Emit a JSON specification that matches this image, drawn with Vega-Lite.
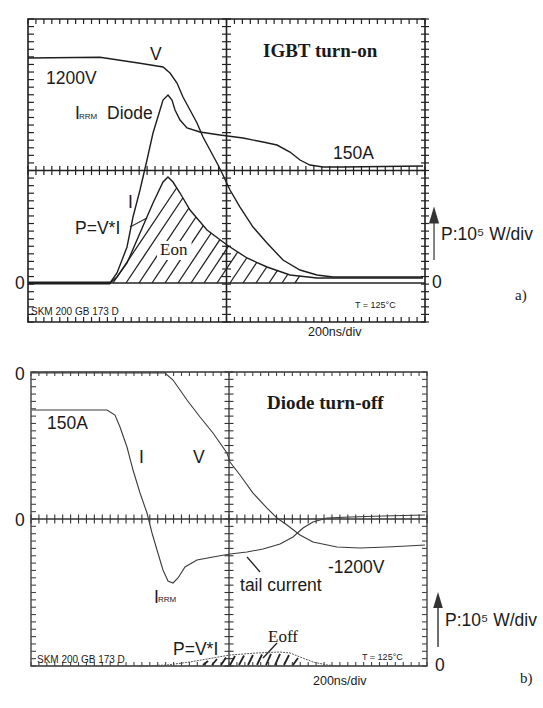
{
"$schema": "https://vega.github.io/schema/vega-lite/v6.json",
"background": "white",
"padding": 0,
"spacing": 0,
"bounds": "flush",
"config": {"view": {"stroke": null}},
"datasets": {
"xs": [{"x":0},{"x":0.2},{"x":0.4},{"x":0.6},{"x":0.8},{"x":1},{"x":1.2},{"x":1.4},{"x":1.6},{"x":1.8},{"x":2},{"x":2.2},{"x":2.4},{"x":2.6},{"x":2.8},{"x":3},{"x":3.2},{"x":3.4},{"x":3.6},{"x":3.8},{"x":4},{"x":4.2},{"x":4.4},{"x":4.6},{"x":4.8},{"x":5},{"x":5.2},{"x":5.4},{"x":5.6},{"x":5.8},{"x":6},{"x":6.2},{"x":6.4},{"x":6.6},{"x":6.8},{"x":7},{"x":7.2},{"x":7.4},{"x":7.6},{"x":7.8},{"x":8},{"x":8.2},{"x":8.4},{"x":8.6},{"x":8.8},{"x":9},{"x":9.2},{"x":9.4},{"x":9.6},{"x":9.8},{"x":10}],
"ys": [{"y":0},{"y":0.2},{"y":0.4},{"y":0.6},{"y":0.8},{"y":1},{"y":1.2},{"y":1.4},{"y":1.6},{"y":1.8},{"y":2},{"y":2.2},{"y":2.4},{"y":2.6},{"y":2.8},{"y":3},{"y":3.2},{"y":3.4},{"y":3.6},{"y":3.8},{"y":4},{"y":4.2},{"y":4.4},{"y":4.6},{"y":4.8},{"y":5},{"y":5.2},{"y":5.4},{"y":5.6},{"y":5.8},{"y":6},{"y":6.2},{"y":6.4},{"y":6.6},{"y":6.8},{"y":7},{"y":7.2},{"y":7.4},{"y":7.6},{"y":7.8},{"y":8}],
"frame": [{"x":0,"y":0,"x2":10,"y2":8}],
"mids": [{"x":0,"y":4,"x2":10,"y2":4},{"x":5,"y":0,"x2":5,"y2":8}],
"curvesA": [
{"s":"V","x":0,"y":6.970},{"s":"V","x":1.814,"y":6.989},{"s":"V","x":2.821,"y":6.830},{"s":"V","x":3.401,"y":6.733},{"s":"V","x":3.577,"y":6.574},{"s":"V","x":3.753,"y":6.310},{"s":"V","x":3.904,"y":5.941},{"s":"V","x":4.081,"y":5.597},{"s":"V","x":4.257,"y":5.254},{"s":"V","x":4.408,"y":4.884},{"s":"V","x":4.584,"y":4.541},{"s":"V","x":4.761,"y":4.198},{"s":"V","x":4.887,"y":3.934},{"s":"V","x":5.088,"y":3.485},{"s":"V","x":5.340,"y":3.036},{"s":"V","x":5.668,"y":2.508},{"s":"V","x":6.020,"y":2.086},{"s":"V","x":6.423,"y":1.637},{"s":"V","x":6.851,"y":1.373},{"s":"V","x":7.280,"y":1.241},{"s":"V","x":7.683,"y":1.188},{"s":"V","x":9.950,"y":1.188},
{"s":"I","x":0,"y":1.030},{"s":"I","x":2.066,"y":1.030},{"s":"I","x":2.242,"y":1.294},{"s":"I","x":2.494,"y":1.980},{"s":"I","x":2.645,"y":2.772},{"s":"I","x":2.821,"y":3.485},{"s":"I","x":2.997,"y":4.277},{"s":"I","x":3.149,"y":4.990},{"s":"I","x":3.325,"y":5.597},{"s":"I","x":3.401,"y":5.861},{"s":"I","x":3.526,"y":5.993},{"s":"I","x":3.627,"y":5.861},{"s":"I","x":3.703,"y":5.597},{"s":"I","x":3.829,"y":5.333},{"s":"I","x":4.005,"y":5.122},{"s":"I","x":4.332,"y":5.017},{"s":"I","x":4.836,"y":4.937},{"s":"I","x":5.416,"y":4.858},{"s":"I","x":5.919,"y":4.752},{"s":"I","x":6.272,"y":4.673},{"s":"I","x":6.599,"y":4.488},{"s":"I","x":6.851,"y":4.277},{"s":"I","x":7.103,"y":4.145},{"s":"I","x":7.431,"y":4.092},{"s":"I","x":7.935,"y":4.092},{"s":"I","x":9.950,"y":4.119},
{"s":"P","x":0,"y":1.030},{"s":"P","x":2.066,"y":1.030},{"s":"P","x":2.242,"y":1.188},{"s":"P","x":2.494,"y":1.558},{"s":"P","x":2.821,"y":2.350},{"s":"P","x":3.149,"y":3.142},{"s":"P","x":3.401,"y":3.696},{"s":"P","x":3.526,"y":3.828},{"s":"P","x":3.652,"y":3.696},{"s":"P","x":3.829,"y":3.406},{"s":"P","x":4.081,"y":2.957},{"s":"P","x":4.509,"y":2.429},{"s":"P","x":5.013,"y":2.033},{"s":"P","x":5.516,"y":1.690},{"s":"P","x":6.020,"y":1.452},{"s":"P","x":6.599,"y":1.241},{"s":"P","x":7.280,"y":1.162},{"s":"P","x":9.950,"y":1.162}
],
"segsA": [
{"k":"base","x":0,"y":1.03,"x2":10,"y2":1.03},
{"k":"thick","x":0,"y":1.03,"x2":2.07,"y2":1.03},
{"k":"hatch","x":2.141,"y":1.03,"x2":3.743,"y2":3.538},
{"k":"hatch","x":2.469,"y":1.03,"x2":3.899,"y2":3.274},
{"k":"hatch","x":2.796,"y":1.03,"x2":4.053,"y2":3.010},
{"k":"hatch","x":3.123,"y":1.03,"x2":4.232,"y2":2.772},
{"k":"hatch","x":3.451,"y":1.03,"x2":4.416,"y2":2.545},
{"k":"hatch","x":3.778,"y":1.03,"x2":4.615,"y2":2.350},
{"k":"hatch","x":4.106,"y":1.03,"x2":4.834,"y2":2.176},
{"k":"hatch","x":4.433,"y":1.03,"x2":5.053,"y2":2.007},
{"k":"hatch","x":4.761,"y":1.03,"x2":5.282,"y2":1.848},
{"k":"hatch","x":5.088,"y":1.03,"x2":5.509,"y2":1.690},
{"k":"hatch","x":5.416,"y":1.03,"x2":5.761,"y2":1.571},
{"k":"hatch","x":5.743,"y":1.03,"x2":6.013,"y2":1.452},
{"k":"hatch","x":6.071,"y":1.03,"x2":6.280,"y2":1.357},
{"k":"hatch","x":6.398,"y":1.03,"x2":6.549,"y2":1.267},
{"k":"hatch","x":6.725,"y":1.03,"x2":6.844,"y2":1.215},
{"k":"lead","x":2.569,"y":2.508,"x2":2.997,"y2":2.746},
{"k":"lead","x":10.227,"y":1.637,"x2":10.227,"y2":2.640}
],
"boxA": [{"x":3.25,"y":1.64,"x2":4.12,"y2":2.14}],
"headA": [{"x":10.227,"y":2.825}],
"textA": [
{"k":"lab","t":"V","x":3.073,"y":7.050},
{"k":"lab","t":"1200V","x":0.453,"y":6.429},
{"k":"lab","t":"I","x":1.184,"y":5.492},
{"k":"lab","t":"Diode","x":1.990,"y":5.492},
{"k":"lab","t":"150A","x":7.683,"y":4.436},
{"k":"lab","t":"I","x":2.519,"y":3.142},
{"k":"lab","t":"P=V*I","x":1.184,"y":2.455},
{"k":"lab","t":"0","x":-0.327,"y":1.003},
{"k":"lab","t":"0","x":10.176,"y":1.030},
{"k":"lab","t":"P:10⁵ W/div","x":10.403,"y":2.297},
{"k":"sub","t":"RRM","x":1.285,"y":5.413},
{"k":"note","t":"SKM 200 GB 173 D","x":0.076,"y":0.264},
{"k":"tiny","t":"T = 125°C","x":8.237,"y":0.449},
{"k":"scale","t":"200ns/div","x":7.053,"y":-0.264},
{"k":"title","t":"IGBT turn-on","x":5.919,"y":7.142},
{"k":"serif","t":"Eon","x":3.325,"y":1.901},
{"k":"fig","t":"a)","x":12.267,"y":0.713}
],
"curvesB": [
{"s":"V","x":0.025,"y":7.973},{"s":"V","x":3.384,"y":7.973},{"s":"V","x":3.586,"y":7.782},{"s":"V","x":3.939,"y":7.238},{"s":"V","x":4.268,"y":6.776},{"s":"V","x":4.596,"y":6.340},{"s":"V","x":4.949,"y":5.796},{"s":"V","x":5.025,"y":5.551},{"s":"V","x":5.278,"y":5.197},{"s":"V","x":5.606,"y":4.707},{"s":"V","x":5.960,"y":4.299},{"s":"V","x":6.212,"y":4.027},{"s":"V","x":6.465,"y":3.837},{"s":"V","x":6.793,"y":3.565},{"s":"V","x":7.121,"y":3.374},{"s":"V","x":7.727,"y":3.238},{"s":"V","x":8.308,"y":3.211},{"s":"V","x":8.990,"y":3.238},{"s":"V","x":9.495,"y":3.265},{"s":"V","x":9.949,"y":3.293},
{"s":"I","x":0.025,"y":6.966},{"s":"I","x":1.919,"y":6.966},{"s":"I","x":2.121,"y":6.830},{"s":"I","x":2.247,"y":6.503},{"s":"I","x":2.424,"y":5.959},{"s":"I","x":2.576,"y":5.333},{"s":"I","x":2.753,"y":4.707},{"s":"I","x":2.929,"y":4.163},{"s":"I","x":3.056,"y":3.619},{"s":"I","x":3.182,"y":3.156},{"s":"I","x":3.333,"y":2.612},{"s":"I","x":3.460,"y":2.313},{"s":"I","x":3.586,"y":2.259},{"s":"I","x":3.712,"y":2.395},{"s":"I","x":3.889,"y":2.694},{"s":"I","x":4.192,"y":2.884},{"s":"I","x":4.596,"y":2.966},{"s":"I","x":5.025,"y":3.048},{"s":"I","x":5.455,"y":3.102},{"s":"I","x":5.859,"y":3.184},{"s":"I","x":6.288,"y":3.320},{"s":"I","x":6.616,"y":3.510},{"s":"I","x":6.869,"y":3.755},{"s":"I","x":7.121,"y":3.918},{"s":"I","x":7.475,"y":4.027},{"s":"I","x":8.056,"y":4.054},{"s":"I","x":8.889,"y":4.082},{"s":"I","x":9.949,"y":4.109},
{"s":"P","x":2.753,"y":0},{"s":"P","x":3.434,"y":0.027},{"s":"P","x":4.015,"y":0.109},{"s":"P","x":4.444,"y":0.190},{"s":"P","x":5.025,"y":0.299},{"s":"P","x":5.707,"y":0.354},{"s":"P","x":6.288,"y":0.381},{"s":"P","x":6.540,"y":0.354},{"s":"P","x":6.793,"y":0.245},{"s":"P","x":7.121,"y":0.109},{"s":"P","x":7.475,"y":0.027},{"s":"P","x":7.803,"y":0}
],
"segsB": [
{"k":"hatch","x":4.343,"y":0.027,"x2":4.470,"y2":0.136},
{"k":"hatch","x":4.571,"y":0.027,"x2":4.697,"y2":0.190},
{"k":"hatch","x":4.798,"y":0.027,"x2":4.924,"y2":0.231},
{"k":"hatch","x":5.025,"y":0.027,"x2":5.152,"y2":0.272},
{"k":"hatch","x":5.253,"y":0.027,"x2":5.379,"y2":0.286},
{"k":"hatch","x":5.480,"y":0.027,"x2":5.606,"y2":0.299},
{"k":"hatch","x":5.707,"y":0.027,"x2":5.833,"y2":0.313},
{"k":"hatch","x":5.934,"y":0.027,"x2":6.061,"y2":0.327},
{"k":"hatch","x":6.162,"y":0.027,"x2":6.288,"y2":0.327},
{"k":"hatch","x":6.389,"y":0.027,"x2":6.515,"y2":0.299},
{"k":"hatch","x":6.616,"y":0.027,"x2":6.742,"y2":0.218},
{"k":"lead","x":5.455,"y":2.966,"x2":5.783,"y2":2.558},
{"k":"lead","x":6.212,"y":0.626,"x2":5.859,"y2":0.218},
{"k":"lead","x":10.278,"y":0.517,"x2":10.278,"y2":1.660}
],
"headB": [{"x":10.278,"y":1.796}],
"textB": [
{"k":"lab","t":"0","x":-0.404,"y":7.918},
{"k":"lab","t":"0","x":-0.404,"y":3.946},
{"k":"lab","t":"150A","x":0.404,"y":6.585},
{"k":"lab","t":"I","x":2.727,"y":5.660},
{"k":"lab","t":"V","x":4.091,"y":5.660},
{"k":"lab","t":"-1200V","x":7.500,"y":2.667},
{"k":"lab","t":"tail current","x":5.278,"y":2.177},
{"k":"lab","t":"I","x":3.106,"y":1.850},
{"k":"lab","t":"P=V*I","x":3.586,"y":0.435},
{"k":"lab","t":"P:10⁵ W/div","x":10.455,"y":1.224},
{"k":"lab","t":"0","x":10.202,"y":0},
{"k":"sub","t":"RRM","x":3.207,"y":1.796},
{"k":"note","t":"SKM 200 GB 173 D","x":0.152,"y":0.163},
{"k":"tiny","t":"T = 125°C","x":8.359,"y":0.245},
{"k":"scale","t":"200ns/div","x":7.121,"y":-0.408},
{"k":"title","t":"Diode turn-off","x":5.960,"y":7.156},
{"k":"serif","t":"Eoff","x":5.985,"y":0.789},
{"k":"fig","t":"b)","x":12.348,"y":-0.327}
]
},
"vconcat": [
{
"width": 543, "height": 350,
"layer": [
{"data": {"name": "frame"}, "mark": {"type": "rect", "fill": null, "stroke": "#1e1e1e", "strokeWidth": 1.6}, "encoding": {"x": {"field": "x", "type": "quantitative", "axis": null, "scale": {"domain": [-0.7053, 12.972], "nice": false, "zero": false}}, "y": {"field": "y", "type": "quantitative", "axis": null, "scale": {"domain": [-0.7393, 8.5017], "nice": false, "zero": false}}, "x2": {"field": "x2"}, "y2": {"field": "y2"}}},
{"data": {"name": "mids"}, "mark": {"type": "rule", "color": "#1e1e1e", "strokeWidth": 1.6}, "encoding": {"x": {"field": "x", "type": "quantitative"}, "y": {"field": "y", "type": "quantitative"}, "x2": {"field": "x2"}, "y2": {"field": "y2"}}},
{"data": {"name": "xs"}, "mark": {"type": "point", "shape": "M0,-1L0,1", "size": 81, "filled": false, "stroke": "#222", "strokeWidth": 1.2, "opacity": 1}, "encoding": {"x": {"field": "x", "type": "quantitative"}, "y": {"datum": 4, "type": "quantitative"}}},
{"data": {"name": "xs"}, "mark": {"type": "point", "shape": "M0,0L0,1", "size": 100, "filled": false, "stroke": "#222", "strokeWidth": 1.2, "opacity": 1}, "encoding": {"x": {"field": "x", "type": "quantitative"}, "y": {"datum": 8, "type": "quantitative"}}},
{"data": {"name": "xs"}, "mark": {"type": "point", "shape": "M0,-1L0,0", "size": 100, "filled": false, "stroke": "#222", "strokeWidth": 1.2, "opacity": 1}, "encoding": {"x": {"field": "x", "type": "quantitative"}, "y": {"datum": 0, "type": "quantitative"}}},
{"data": {"name": "ys"}, "mark": {"type": "point", "shape": "M-1,0L1,0", "size": 81, "filled": false, "stroke": "#222", "strokeWidth": 1.2, "opacity": 1}, "encoding": {"x": {"datum": 5, "type": "quantitative"}, "y": {"field": "y", "type": "quantitative"}}},
{"data": {"name": "ys"}, "mark": {"type": "point", "shape": "M0,0L1,0", "size": 144, "filled": false, "stroke": "#222", "strokeWidth": 1.2, "opacity": 1}, "encoding": {"x": {"datum": 0, "type": "quantitative"}, "y": {"field": "y", "type": "quantitative"}}},
{"data": {"name": "ys"}, "mark": {"type": "point", "shape": "M-1,0L1,0", "size": 64, "filled": false, "stroke": "#222", "strokeWidth": 1.2, "opacity": 1}, "encoding": {"x": {"datum": 10, "type": "quantitative"}, "y": {"field": "y", "type": "quantitative"}}},
{"data": {"name": "segsA"}, "transform": [{"filter": "datum.k == 'base'"}], "mark": {"type": "rule", "color": "#222", "strokeWidth": 1.3}, "encoding": {"x": {"field": "x", "type": "quantitative"}, "y": {"field": "y", "type": "quantitative"}, "x2": {"field": "x2"}, "y2": {"field": "y2"}}},
{"data": {"name": "segsA"}, "transform": [{"filter": "datum.k == 'thick'"}], "mark": {"type": "rule", "color": "#222", "strokeWidth": 3}, "encoding": {"x": {"field": "x", "type": "quantitative"}, "y": {"field": "y", "type": "quantitative"}, "x2": {"field": "x2"}, "y2": {"field": "y2"}}},
{"data": {"name": "segsA"}, "transform": [{"filter": "datum.k == 'hatch'"}], "mark": {"type": "rule", "color": "#222", "strokeWidth": 1.3}, "encoding": {"x": {"field": "x", "type": "quantitative"}, "y": {"field": "y", "type": "quantitative"}, "x2": {"field": "x2"}, "y2": {"field": "y2"}}},
{"data": {"name": "boxA"}, "mark": {"type": "rect", "fill": "white", "stroke": null}, "encoding": {"x": {"field": "x", "type": "quantitative"}, "y": {"field": "y", "type": "quantitative"}, "x2": {"field": "x2"}, "y2": {"field": "y2"}}},
{"data": {"name": "segsA"}, "transform": [{"filter": "datum.k == 'lead'"}], "mark": {"type": "rule", "color": "#333", "strokeWidth": 1.2}, "encoding": {"x": {"field": "x", "type": "quantitative"}, "y": {"field": "y", "type": "quantitative"}, "x2": {"field": "x2"}, "y2": {"field": "y2"}}},
{"data": {"name": "curvesA"}, "mark": {"type": "line", "color": "#1e1e1e", "strokeWidth": 1.4}, "encoding": {"x": {"field": "x", "type": "quantitative"}, "y": {"field": "y", "type": "quantitative"}, "detail": {"field": "s"}}},
{"data": {"name": "headA"}, "mark": {"type": "point", "shape": "M-0.6,1L0,-1L0.6,1Z", "size": 289, "filled": true, "color": "#333", "opacity": 1}, "encoding": {"x": {"field": "x", "type": "quantitative"}, "y": {"field": "y", "type": "quantitative"}}},
{"data": {"name": "textA"}, "transform": [{"filter": "datum.k == 'lab'"}], "mark": {"type": "text", "align": "left", "baseline": "middle", "font": "Liberation Sans", "fontSize": 17.5, "color": "#1a1a1a"}, "encoding": {"x": {"field": "x", "type": "quantitative"}, "y": {"field": "y", "type": "quantitative"}, "text": {"field": "t"}}},
{"data": {"name": "textA"}, "transform": [{"filter": "datum.k == 'sub'"}], "mark": {"type": "text", "align": "left", "baseline": "middle", "font": "Liberation Sans", "fontSize": 8, "color": "#1a1a1a"}, "encoding": {"x": {"field": "x", "type": "quantitative"}, "y": {"field": "y", "type": "quantitative"}, "text": {"field": "t"}}},
{"data": {"name": "textA"}, "transform": [{"filter": "datum.k == 'note'"}], "mark": {"type": "text", "align": "left", "baseline": "middle", "font": "Liberation Sans", "fontSize": 10, "color": "#1a1a1a"}, "encoding": {"x": {"field": "x", "type": "quantitative"}, "y": {"field": "y", "type": "quantitative"}, "text": {"field": "t"}}},
{"data": {"name": "textA"}, "transform": [{"filter": "datum.k == 'tiny'"}], "mark": {"type": "text", "align": "left", "baseline": "middle", "font": "Liberation Sans", "fontSize": 9, "color": "#1a1a1a"}, "encoding": {"x": {"field": "x", "type": "quantitative"}, "y": {"field": "y", "type": "quantitative"}, "text": {"field": "t"}}},
{"data": {"name": "textA"}, "transform": [{"filter": "datum.k == 'scale'"}], "mark": {"type": "text", "align": "left", "baseline": "middle", "font": "Liberation Sans", "fontSize": 12.5, "color": "#1a1a1a"}, "encoding": {"x": {"field": "x", "type": "quantitative"}, "y": {"field": "y", "type": "quantitative"}, "text": {"field": "t"}}},
{"data": {"name": "textA"}, "transform": [{"filter": "datum.k == 'title'"}], "mark": {"type": "text", "align": "left", "baseline": "middle", "font": "Liberation Serif", "fontWeight": "bold", "fontSize": 19, "color": "#1a1a1a"}, "encoding": {"x": {"field": "x", "type": "quantitative"}, "y": {"field": "y", "type": "quantitative"}, "text": {"field": "t"}}},
{"data": {"name": "textA"}, "transform": [{"filter": "datum.k == 'serif'"}], "mark": {"type": "text", "align": "left", "baseline": "middle", "font": "Liberation Serif", "fontSize": 17, "color": "#1a1a1a"}, "encoding": {"x": {"field": "x", "type": "quantitative"}, "y": {"field": "y", "type": "quantitative"}, "text": {"field": "t"}}},
{"data": {"name": "textA"}, "transform": [{"filter": "datum.k == 'fig'"}], "mark": {"type": "text", "align": "left", "baseline": "middle", "font": "Liberation Serif", "fontSize": 15, "color": "#1a1a1a"}, "encoding": {"x": {"field": "x", "type": "quantitative"}, "y": {"field": "y", "type": "quantitative"}, "text": {"field": "t"}}}
]
},
{
"width": 543, "height": 358,
"layer": [
{"data": {"name": "frame"}, "mark": {"type": "rect", "fill": null, "stroke": "#333", "strokeWidth": 1.3}, "encoding": {"x": {"field": "x", "type": "quantitative", "axis": null, "scale": {"domain": [-0.7828, 12.929], "nice": false, "zero": false}}, "y": {"field": "y", "type": "quantitative", "axis": null, "scale": {"domain": [-1.1429, 8.599], "nice": false, "zero": false}}, "x2": {"field": "x2"}, "y2": {"field": "y2"}}},
{"data": {"name": "mids"}, "mark": {"type": "rule", "color": "#333", "strokeWidth": 1.3}, "encoding": {"x": {"field": "x", "type": "quantitative"}, "y": {"field": "y", "type": "quantitative"}, "x2": {"field": "x2"}, "y2": {"field": "y2"}}},
{"data": {"name": "xs"}, "mark": {"type": "point", "shape": "M0,-1L0,1", "size": 81, "filled": false, "stroke": "#333", "strokeWidth": 1.1, "opacity": 1}, "encoding": {"x": {"field": "x", "type": "quantitative"}, "y": {"datum": 4, "type": "quantitative"}}},
{"data": {"name": "xs"}, "mark": {"type": "point", "shape": "M0,0L0,1", "size": 64, "filled": false, "stroke": "#444", "strokeWidth": 1.1, "opacity": 1}, "encoding": {"x": {"field": "x", "type": "quantitative"}, "y": {"datum": 8, "type": "quantitative"}}},
{"data": {"name": "xs"}, "mark": {"type": "point", "shape": "M0,-1L0,0", "size": 64, "filled": false, "stroke": "#444", "strokeWidth": 1.1, "opacity": 1}, "encoding": {"x": {"field": "x", "type": "quantitative"}, "y": {"datum": 0, "type": "quantitative"}}},
{"data": {"name": "ys"}, "mark": {"type": "point", "shape": "M-1,0L1,0", "size": 81, "filled": false, "stroke": "#333", "strokeWidth": 1.1, "opacity": 1}, "encoding": {"x": {"datum": 5, "type": "quantitative"}, "y": {"field": "y", "type": "quantitative"}}},
{"data": {"name": "ys"}, "mark": {"type": "point", "shape": "M0,0L1,0", "size": 100, "filled": false, "stroke": "#444", "strokeWidth": 1.1, "opacity": 1}, "encoding": {"x": {"datum": 0, "type": "quantitative"}, "y": {"field": "y", "type": "quantitative"}}},
{"data": {"name": "ys"}, "mark": {"type": "point", "shape": "M-1,0L0,0", "size": 100, "filled": false, "stroke": "#444", "strokeWidth": 1.1, "opacity": 1}, "encoding": {"x": {"datum": 10, "type": "quantitative"}, "y": {"field": "y", "type": "quantitative"}}},
{"data": {"name": "segsB"}, "transform": [{"filter": "datum.k == 'hatch'"}], "mark": {"type": "rule", "color": "#222", "strokeWidth": 1.8}, "encoding": {"x": {"field": "x", "type": "quantitative"}, "y": {"field": "y", "type": "quantitative"}, "x2": {"field": "x2"}, "y2": {"field": "y2"}}},
{"data": {"name": "segsB"}, "transform": [{"filter": "datum.k == 'lead'"}], "mark": {"type": "rule", "color": "#222", "strokeWidth": 1.3}, "encoding": {"x": {"field": "x", "type": "quantitative"}, "y": {"field": "y", "type": "quantitative"}, "x2": {"field": "x2"}, "y2": {"field": "y2"}}},
{"data": {"name": "curvesB"}, "transform": [{"filter": "datum.s != 'P'"}], "mark": {"type": "line", "color": "#3a3a3a", "strokeWidth": 1.1}, "encoding": {"x": {"field": "x", "type": "quantitative"}, "y": {"field": "y", "type": "quantitative"}, "detail": {"field": "s"}}},
{"data": {"name": "curvesB"}, "transform": [{"filter": "datum.s == 'P'"}], "mark": {"type": "line", "color": "#555", "strokeWidth": 1, "strokeDash": [2, 1]}, "encoding": {"x": {"field": "x", "type": "quantitative"}, "y": {"field": "y", "type": "quantitative"}, "detail": {"field": "s"}}},
{"data": {"name": "headB"}, "mark": {"type": "point", "shape": "M-0.6,1L0,-1L0.6,1Z", "size": 256, "filled": true, "color": "#333", "opacity": 1}, "encoding": {"x": {"field": "x", "type": "quantitative"}, "y": {"field": "y", "type": "quantitative"}}},
{"data": {"name": "textB"}, "transform": [{"filter": "datum.k == 'lab'"}], "mark": {"type": "text", "align": "left", "baseline": "middle", "font": "Liberation Sans", "fontSize": 17.5, "color": "#1a1a1a"}, "encoding": {"x": {"field": "x", "type": "quantitative"}, "y": {"field": "y", "type": "quantitative"}, "text": {"field": "t"}}},
{"data": {"name": "textB"}, "transform": [{"filter": "datum.k == 'sub'"}], "mark": {"type": "text", "align": "left", "baseline": "middle", "font": "Liberation Sans", "fontSize": 8, "color": "#1a1a1a"}, "encoding": {"x": {"field": "x", "type": "quantitative"}, "y": {"field": "y", "type": "quantitative"}, "text": {"field": "t"}}},
{"data": {"name": "textB"}, "transform": [{"filter": "datum.k == 'note'"}], "mark": {"type": "text", "align": "left", "baseline": "middle", "font": "Liberation Sans", "fontSize": 10, "color": "#1a1a1a"}, "encoding": {"x": {"field": "x", "type": "quantitative"}, "y": {"field": "y", "type": "quantitative"}, "text": {"field": "t"}}},
{"data": {"name": "textB"}, "transform": [{"filter": "datum.k == 'tiny'"}], "mark": {"type": "text", "align": "left", "baseline": "middle", "font": "Liberation Sans", "fontSize": 9, "color": "#1a1a1a"}, "encoding": {"x": {"field": "x", "type": "quantitative"}, "y": {"field": "y", "type": "quantitative"}, "text": {"field": "t"}}},
{"data": {"name": "textB"}, "transform": [{"filter": "datum.k == 'scale'"}], "mark": {"type": "text", "align": "left", "baseline": "middle", "font": "Liberation Sans", "fontSize": 12.5, "color": "#1a1a1a"}, "encoding": {"x": {"field": "x", "type": "quantitative"}, "y": {"field": "y", "type": "quantitative"}, "text": {"field": "t"}}},
{"data": {"name": "textB"}, "transform": [{"filter": "datum.k == 'title'"}], "mark": {"type": "text", "align": "left", "baseline": "middle", "font": "Liberation Serif", "fontWeight": "bold", "fontSize": 19, "color": "#1a1a1a"}, "encoding": {"x": {"field": "x", "type": "quantitative"}, "y": {"field": "y", "type": "quantitative"}, "text": {"field": "t"}}},
{"data": {"name": "textB"}, "transform": [{"filter": "datum.k == 'serif'"}], "mark": {"type": "text", "align": "left", "baseline": "middle", "font": "Liberation Serif", "fontSize": 17, "color": "#1a1a1a"}, "encoding": {"x": {"field": "x", "type": "quantitative"}, "y": {"field": "y", "type": "quantitative"}, "text": {"field": "t"}}},
{"data": {"name": "textB"}, "transform": [{"filter": "datum.k == 'fig'"}], "mark": {"type": "text", "align": "left", "baseline": "middle", "font": "Liberation Serif", "fontSize": 15, "color": "#1a1a1a"}, "encoding": {"x": {"field": "x", "type": "quantitative"}, "y": {"field": "y", "type": "quantitative"}, "text": {"field": "t"}}}
]
}
]
}
